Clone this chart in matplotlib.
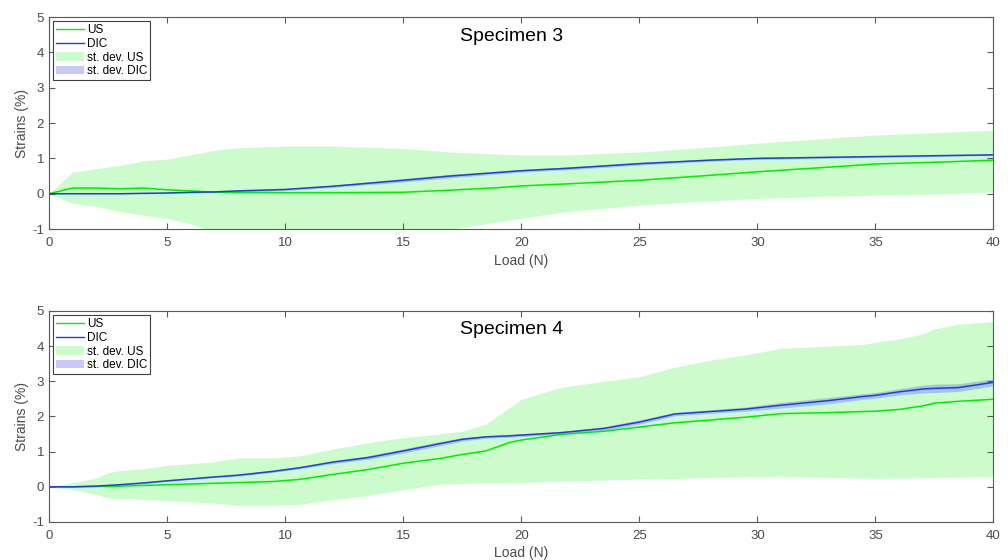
import numpy as np
import matplotlib
matplotlib.use("Agg")
import matplotlib.pyplot as plt
from matplotlib.lines import Line2D
from matplotlib.patches import Patch

plt.rcParams["font.family"] = ["Liberation Sans", "DejaVu Sans"]
plt.rcParams["axes.unicode_minus"] = False

# ---------------- Specimen 3 ----------------
s3_load = [0, 1, 2, 3, 4, 5, 6, 7, 8, 10, 12, 15, 17, 19, 20, 22, 25, 28, 30, 33, 35, 38, 40]
s3_us = [0, 0.16, 0.16, 0.14, 0.16, 0.11, 0.08, 0.04, 0.04, 0.03, 0.03, 0.04, 0.1, 0.17, 0.22,
         0.28, 0.38, 0.52, 0.62, 0.75, 0.84, 0.9, 0.95]
s3_us_hi = [0, 0.61, 0.71, 0.8, 0.93, 0.98, 1.1, 1.23, 1.3, 1.35, 1.35, 1.28, 1.18, 1.12, 1.1,
            1.1, 1.18, 1.32, 1.43, 1.57, 1.66, 1.74, 1.8]
s3_us_lo = [0, -0.27, -0.36, -0.5, -0.61, -0.7, -0.85, -1.1, -1.25, -1.3, -1.3, -1.2, -1.0, -0.8,
            -0.69, -0.5, -0.32, -0.2, -0.13, -0.07, -0.04, 0.0, 0.05]
s3_dic = [0, 0.0, 0.0, 0.0, 0.01, 0.02, 0.04, 0.05, 0.08, 0.12, 0.21, 0.38, 0.5, 0.6, 0.65,
          0.72, 0.85, 0.95, 1.0, 1.03, 1.05, 1.08, 1.1]
s3_dic_sd = [0, 0.01, 0.01, 0.01, 0.01, 0.02, 0.02, 0.02, 0.02, 0.03, 0.03, 0.05, 0.05, 0.04, 0.04,
             0.04, 0.04, 0.03, 0.03, 0.03, 0.02, 0.02, 0.02]

# ---------------- Specimen 4 ----------------
s4_load = [0, 1, 2, 2.5, 3, 4, 5, 7, 8, 9.5, 10.6, 12, 13.5, 15, 16.5, 17.5, 18.5, 19.5, 20,
           21.7, 23.5, 25, 26.5, 28, 29.5, 31, 33, 34.5, 35, 36, 37, 37.5, 38.5, 40]
s4_us = [0, 0.0, 0.01, 0.01, 0.02, 0.04, 0.06, 0.1, 0.12, 0.15, 0.21, 0.35, 0.49, 0.67, 0.8,
         0.92, 1.02, 1.26, 1.33, 1.49, 1.58, 1.7, 1.82, 1.9, 1.98, 2.08, 2.11, 2.14, 2.15, 2.2,
         2.3, 2.38, 2.43, 2.49]
s4_us_hi = [0, 0.11, 0.25, 0.4, 0.46, 0.51, 0.61, 0.71, 0.82, 0.82, 0.88, 1.07, 1.25, 1.4, 1.5,
            1.58, 1.78, 2.25, 2.49, 2.83, 3.0, 3.13, 3.4, 3.6, 3.75, 3.94, 4.0, 4.05, 4.11, 4.2,
            4.35, 4.49, 4.62, 4.7]
s4_us_lo = [0, -0.08, -0.22, -0.31, -0.33, -0.36, -0.39, -0.46, -0.53, -0.53, -0.5, -0.36, -0.25,
            -0.08, 0.07, 0.1, 0.11, 0.12, 0.13, 0.16, 0.19, 0.22, 0.24, 0.27, 0.29, 0.3, 0.27, 0.25,
            0.24, 0.25, 0.26, 0.27, 0.28, 0.3]
s4_dic = [0, 0.0, 0.02, 0.04, 0.06, 0.11, 0.17, 0.28, 0.33, 0.44, 0.54, 0.7, 0.83, 1.02, 1.22,
          1.35, 1.42, 1.45, 1.47, 1.54, 1.66, 1.84, 2.07, 2.14, 2.21, 2.32, 2.45, 2.57, 2.6, 2.7,
          2.78, 2.8, 2.82, 2.97]
s4_dic_sd = [0, 0.01, 0.01, 0.01, 0.01, 0.02, 0.02, 0.02, 0.03, 0.03, 0.03, 0.04, 0.05, 0.06,
             0.06, 0.05, 0.04, 0.04, 0.04, 0.04, 0.05, 0.06, 0.05, 0.05, 0.06, 0.08, 0.09, 0.08,
             0.08, 0.09, 0.11, 0.12, 0.11, 0.1]

green = "#00ee00"
green_band = "#ccfccc"
blue = "#1f3fdd"
blue_band = "#8f9ff0"
axis_col = "#5a5a5a"
text_col = "#4a4a4a"


def draw(ax, load, us, us_lo, us_hi, dic, dic_sd, title):
    load = np.array(load)
    dic = np.array(dic)
    dic_sd = np.array(dic_sd)
    ax.fill_between(load, us_lo, us_hi, color=green_band, lw=0)
    ax.fill_between(load, dic - dic_sd, dic + dic_sd, color=blue_band, alpha=0.6, lw=0)
    ax.plot(load, us, color=green, lw=1.1)
    ax.plot(load, dic, color=blue, lw=1.1)
    ax.set_xlim(0, 40)
    ax.set_ylim(-1, 5)
    ax.set_xticks(range(0, 41, 5))
    ax.set_yticks(range(-1, 6))
    ax.tick_params(direction="in", top=True, right=True, length=4, width=0.8,
                   colors=axis_col, labelcolor=text_col, labelsize=9.5)
    ax.tick_params(axis="x", pad=6)
    for sp in ax.spines.values():
        sp.set_color(axis_col)
        sp.set_linewidth(0.8)
    ax.set_xlabel("Load (N)", fontsize=10, color=text_col, labelpad=3)
    ax.set_ylabel("Strains (%)", fontsize=10, color=text_col, labelpad=2)
    ax.text(0.49, 0.91, title, transform=ax.transAxes, ha="center", va="center",
            fontsize=14, color="black")
    handles = [
        Line2D([], [], color=green, lw=1),
        Line2D([], [], color=blue, lw=1),
        Patch(facecolor=green_band, edgecolor="none"),
        Patch(facecolor="#c8c8f8", edgecolor="none"),
    ]
    leg = ax.legend(handles, ["US", "DIC", "st. dev. US", "st. dev. DIC"], loc="upper left",
                    fontsize=8.5, fancybox=False, framealpha=1, edgecolor="#404040",
                    handlelength=2.4, handletextpad=0.2, labelspacing=0.15,
                    borderpad=0.25, borderaxespad=0.35)
    leg.get_frame().set_linewidth(0.8)


fig = plt.figure(figsize=(10.08, 5.6), dpi=100)
ax1 = fig.add_axes([0.0486, 0.591, 0.937, 0.3786])
ax2 = fig.add_axes([0.0486, 0.0679, 0.937, 0.3768])

draw(ax1, s3_load, s3_us, s3_us_lo, s3_us_hi, s3_dic, s3_dic_sd, "Specimen 3")
draw(ax2, s4_load, s4_us, s4_us_lo, s4_us_hi, s4_dic, s4_dic_sd, "Specimen 4")

fig.savefig("out.png", dpi=100)
